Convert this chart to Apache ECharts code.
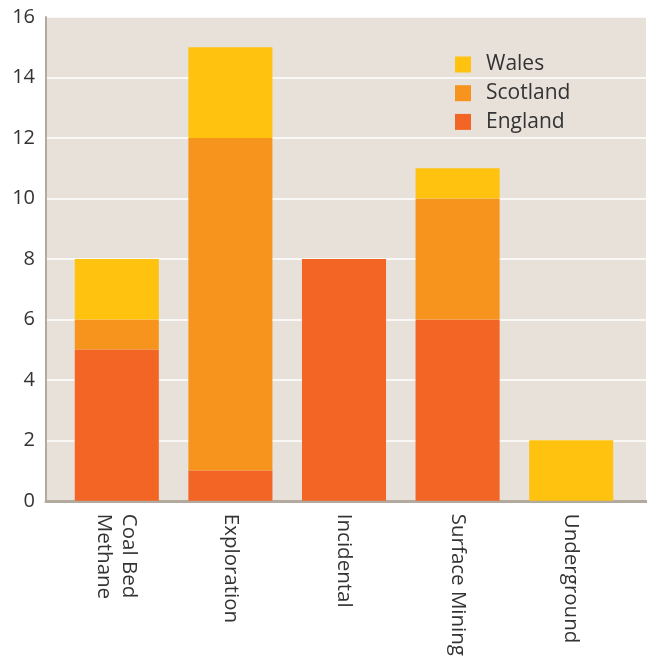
<!DOCTYPE html>
<html>
<head>
<meta charset="utf-8">
<script src="https://cdn.jsdelivr.net/npm/echarts@6/dist/echarts.min.js"></script>
<style>
  html, body { margin: 0; padding: 0; background: #ffffff; }
  #chart { width: 647px; height: 659px; }
</style>
</head>
<body>
<div id="chart"></div>
<script>
// Licences by type, stacked by nation
const categories = ['Coal Bed\nMethane', 'Exploration', 'Incidental', 'Surface Mining', 'Underground'];
const england  = [5, 1, 8, 6, 0];
const scotland = [1, 11, 0, 4, 0];
const wales    = [2, 3, 0, 1, 2];
const yTicks = { min: 0, max: 16, interval: 2 };

const colors = { england: '#F26524', scotland: '#F7941E', wales: '#FFC20E' };
const font = '"Open Sans", "Noto Sans", sans-serif';

const chart = echarts.init(document.getElementById('chart'), null, { renderer: 'canvas' });

chart.setOption({
  animation: false,
  textStyle: { fontFamily: font },
  grid: [
    // plotting panel with background and gridlines
    { left: 46, right: 1, top: 17, bottom: 158, show: true, backgroundColor: '#E8E1DA', borderWidth: 0 },
    // bars
    { left: 60, right: 19, top: 17, bottom: 158 }
  ],
  legend: {
    orient: 'vertical',
    left: 455,
    top: 54,
    padding: 0,
    itemWidth: 16,
    itemHeight: 16,
    itemGap: 7.7,
    icon: 'rect',
    data: ['Wales', 'Scotland', 'England'],
    textStyle: { fontSize: 21, color: '#333333', fontFamily: font, padding: [0, 0, 0, 10] }
  },
  xAxis: [
    {
      gridIndex: 0, type: 'category', data: [''],
      axisLine: { show: true, lineStyle: { color: '#B3AA9F', width: 3 } },
      axisTick: { show: false }, axisLabel: { show: false }, splitLine: { show: false }
    },
    {
      gridIndex: 1, type: 'category', data: categories,
      axisLine: { show: false }, axisTick: { show: false },
      axisLabel: {
        rotate: -90, margin: 13, fontSize: 20.5, color: '#333333', fontFamily: font,
        lineHeight: 25, interval: 0
      }
    }
  ],
  yAxis: [
    {
      gridIndex: 0, type: 'value', min: yTicks.min, max: yTicks.max, interval: yTicks.interval,
      axisLine: { show: true, lineStyle: { color: '#B3AA9F', width: 2 } },
      axisTick: { show: false },
      axisLabel: { fontSize: 20, color: '#333333', margin: 11, fontFamily: font },
      splitLine: { show: true, lineStyle: { color: '#FFFFFF', width: 1.5 } }
    },
    {
      gridIndex: 1, type: 'value', min: yTicks.min, max: yTicks.max, interval: yTicks.interval,
      show: false, splitLine: { show: false }
    }
  ],
  series: [
    { name: 'England', type: 'bar', stack: 'n', xAxisIndex: 1, yAxisIndex: 1, data: england,
      barWidth: '74%', itemStyle: { color: colors.england } },
    { name: 'Scotland', type: 'bar', stack: 'n', xAxisIndex: 1, yAxisIndex: 1, data: scotland,
      barWidth: '74%', itemStyle: { color: colors.scotland } },
    { name: 'Wales', type: 'bar', stack: 'n', xAxisIndex: 1, yAxisIndex: 1, data: wales,
      barWidth: '74%', itemStyle: { color: colors.wales } }
  ]
});
</script>
</body>
</html>
